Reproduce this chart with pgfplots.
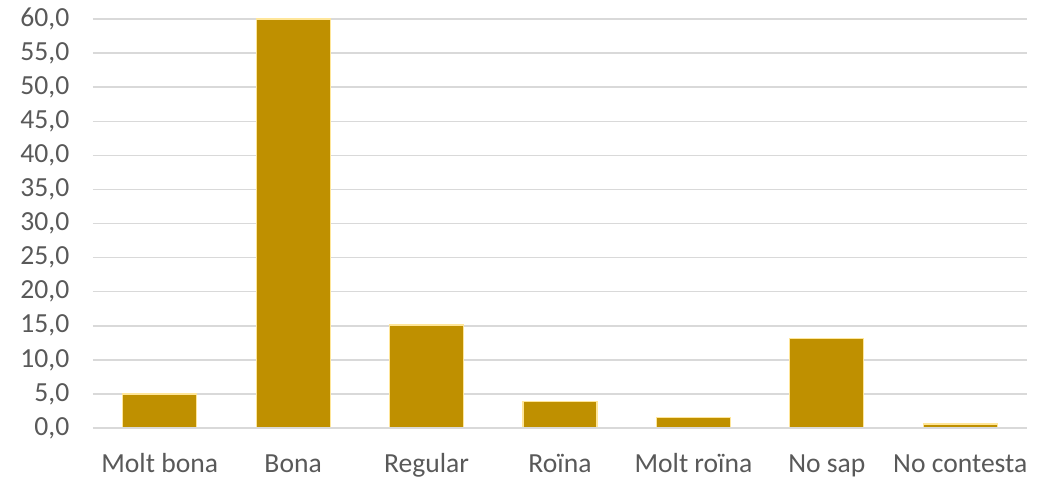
\documentclass[border=0pt]{standalone}
\usepackage{pgfplots}
\pgfplotsset{compat=1.18}
\usepackage{fontspec}
\setmainfont{Carlito}
\definecolor{barc}{HTML}{BF9000}
\definecolor{bare}{HTML}{FFE699}
\definecolor{gridc}{HTML}{D9D9D9}
\definecolor{txt}{HTML}{595959}
\begin{document}
\begin{tikzpicture}
\useasboundingbox (-46.5pt,-26.5pt) rectangle (478pt,214pt);
\begin{axis}[
  at={(0pt,0pt)}, anchor=south west,
  scale only axis,
  width=467pt, height=204.5pt,
  xmin=-0.5, xmax=6.5,
  ymin=0, ymax=60,
  ytick={0,5,...,60},
  xtick=data,
  xticklabels={Molt bona,Bona,Regular,Roïna,Molt roïna,No sap,No contesta},
  axis line style={draw=none},
  axis x line*=bottom,
  major tick length=0pt,
  ymajorgrids,
  grid style={gridc, line width=0.75pt},
  tick label style={font=\fontsize{13.8}{16}\selectfont, text=txt},
  /pgf/number format/assume math mode=true,
  yticklabel={\pgfmathprintnumber[fixed,fixed zerofill,precision=1,use comma]{\tick}},
  yticklabel style={xshift=-8.3pt},
  xticklabel style={anchor=base, yshift=-22.5pt},
  clip=false,
]
\addplot[ybar, bar width=37pt, fill=barc, draw=bare, line width=0.6pt] coordinates {
  (0,5.0) (1,60.0) (2,15.1) (3,3.9) (4,1.5) (5,13.1) (6,0.6)
};
\draw[gridc, line width=0.75pt] (axis cs:-0.5,0) -- (axis cs:6.5,0);
\end{axis}
\end{tikzpicture}
\end{document}
